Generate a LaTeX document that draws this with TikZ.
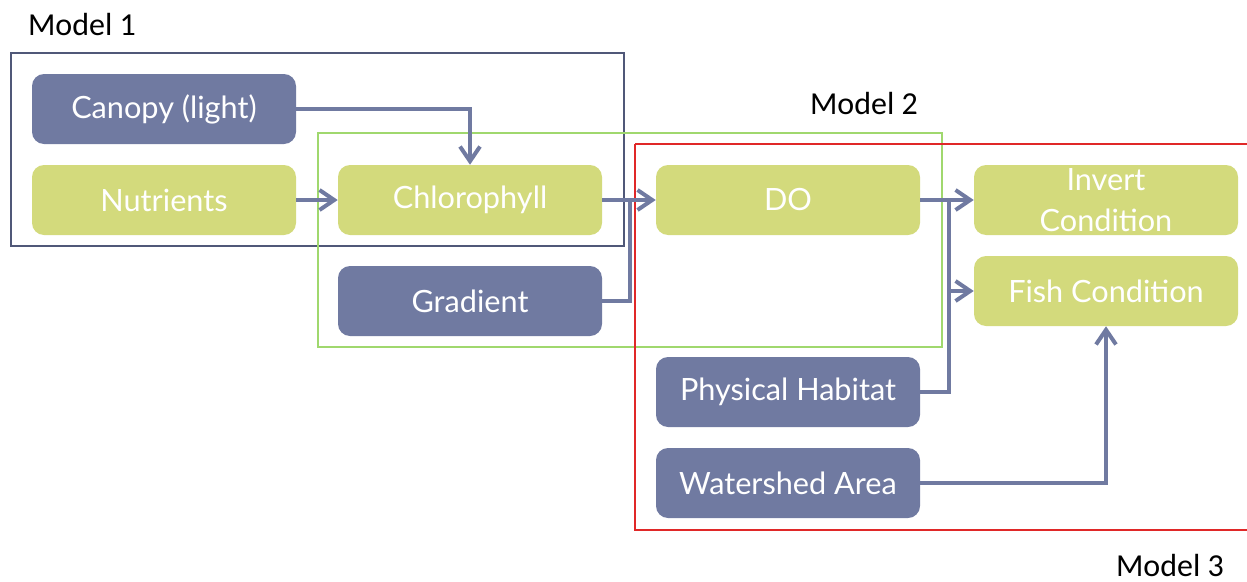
\documentclass[tikz,border=0pt]{standalone}
\usepackage{fontspec}
\setmainfont{Lato}
\newfontfamily\labfont{Carlito}
\usetikzlibrary{arrows.meta}
\definecolor{boxblue}{RGB}{112,122,161}
\definecolor{boxgreen}{RGB}{211,218,124}
\definecolor{frameone}{RGB}{80,88,120}
\definecolor{frametwo}{RGB}{160,216,110}
\definecolor{framethree}{RGB}{224,40,40}
\tikzset{
  box/.style={rounded corners=9pt, minimum width=198pt, minimum height=52.5pt, inner sep=0pt,
    text=white, font=\fontsize{23}{31}\selectfont, align=center},
  bluebox/.style={box, fill=boxblue},
  greenbox/.style={box, fill=boxgreen},
  conn/.style={draw=boxblue, line width=3pt, -{Straight Barb[length=11pt,width=15pt]}},
  plain/.style={draw=boxblue, line width=3pt},
  modlabel/.style={font=\labfont\fontsize{24}{28}\selectfont, text=black, inner sep=0pt}
}
\begin{document}
\begin{tikzpicture}[x=0.75pt,y=-0.75pt]
\useasboundingbox (0,0) rectangle (1247,582);
% frames
\draw[frameone, line width=1pt] (11,53) rectangle (624,246);
\draw[frametwo, line width=1pt] (318,133) rectangle (942,347);
\draw[framethree, line width=1pt] (635,144) -- (1250,144) (635,144) -- (635,530) -- (1250,530);
% labels
\node[modlabel] (m1) at (82,24) {Model 1};
\node[modlabel] (m2) at (864,103) {Model 2};
\node[modlabel] (m3) at (1170,565) {Model 3};
% boxes
\node[bluebox] (canopy) at (164,109) {\raisebox{-2pt}{Canopy (light)}};
\node[greenbox] (nutr) at (164,200) {\raisebox{-2pt}{Nutrients}};
\node[greenbox] (chl) at (470,200) {\raisebox{-2pt}{Chlorophyll}};
\node[bluebox] (grad) at (470,301) {\raisebox{-2pt}{Gradient}};
\node[greenbox] (do) at (788,200) {\raisebox{-2pt}{DO}};
\node[greenbox] (inv) at (1106,200) {Invert\\Condition};
\node[greenbox] (fish) at (1106,291) {\raisebox{-2pt}{Fish Condition}};
\node[bluebox] (phys) at (788,392) {\raisebox{-2pt}{Physical Habitat}};
\node[bluebox] (ws) at (788,483) {\raisebox{-2pt}{Watershed Area}};
% junction coordinates
\coordinate (j1) at (630,200);
\coordinate (j2) at (949,200);
\coordinate (j3) at (949,291);
% connectors
\draw[conn] (canopy.east) -| (chl.north);
\draw[conn] (nutr) -- (chl);
\draw[conn] (chl) -- (do);
\draw[plain] (grad.east) -| (j1);
\draw[conn] (do) -- (inv);
\draw[plain] (phys.east) -| (j2);
\draw[conn] (j3) -- (fish.west);
\draw[conn] (ws.east) -| (fish.south);
\end{tikzpicture}
\end{document}
